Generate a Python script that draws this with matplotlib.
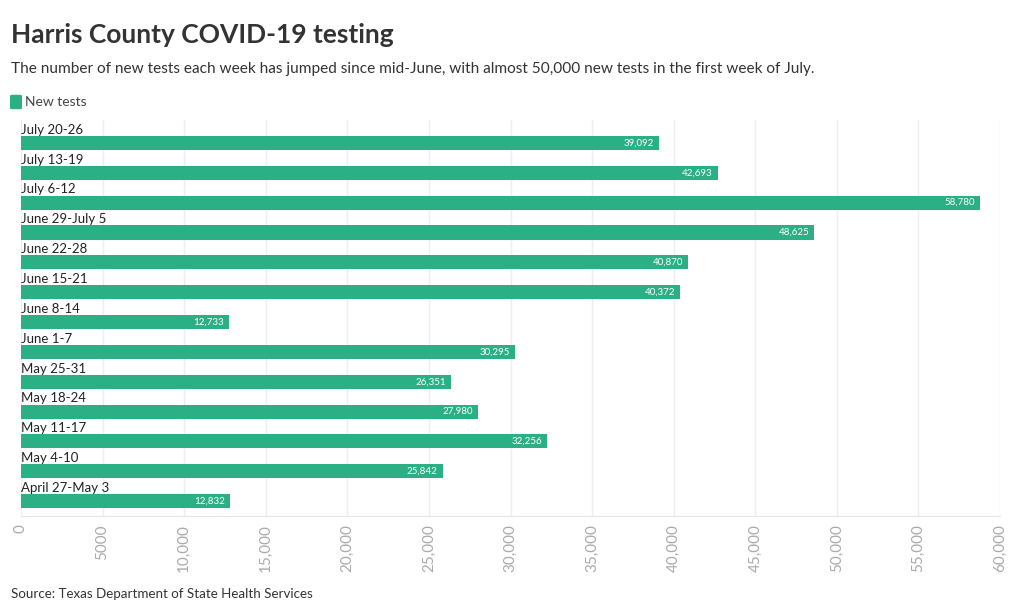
import matplotlib.pyplot as plt
from matplotlib.patches import FancyBboxPatch

weeks = ["July 20-26", "July 13-19", "July 6-12", "June 29-July 5", "June 22-28",
         "June 15-21", "June 8-14", "June 1-7", "May 25-31", "May 18-24",
         "May 11-17", "May 4-10", "April 27-May 3"]
new_tests = [39092, 42693, 58780, 48625, 40870, 40372, 12733, 30295, 26351,
             27980, 32256, 25842, 12832]
xticks = [0, 5000, 10000, 15000, 20000, 25000, 30000, 35000, 40000, 45000,
          50000, 55000, 60000]
xtick_labels = ["0", "5000", "10,000", "15,000", "20,000", "25,000", "30,000",
                "35,000", "40,000", "45,000", "50,000", "55,000", "60,000"]

green = "#2bb085"
plt.rcParams['font.family'] = ['Lato', 'DejaVu Sans']

fig = plt.figure(figsize=(10.2, 6.13), dpi=100)
ax = fig.add_axes([21/1020, 1 - 516/613, 979/1020, (516-120)/613])

n = len(weeks)
ypos = [n - 1 - i for i in range(n)]
ax.barh(ypos, new_tests, height=0.47, color=green, zorder=2)
for y, w, v in zip(ypos, weeks, new_tests):
    ax.text(0, y + 0.24, w, ha='left', va='bottom', fontsize=9.5, color='#222222')
    ax.text(v - 300, y, f"{v:,}", ha='right', va='center', fontsize=7,
            color='white', zorder=3)

ax.set_xlim(0, 60000)
ax.set_ylim(-0.5, n - 0.23)
ax.set_xticks(xticks)
ax.set_xticklabels(xtick_labels, rotation=90, color='#aaaaaa', fontsize=11)
ax.tick_params(axis='x', length=0, pad=6)
ax.set_yticks([])
ax.grid(axis='x', color='#eeeeee', linewidth=1, zorder=0)
for s in ['top', 'right', 'left']:
    ax.spines[s].set_visible(False)
ax.spines['bottom'].set_color('#e6e6e6')

fig.text(11/1020, 1 - 35/613, "Harris County COVID-19 testing", fontsize=19,
         fontweight='bold', color='#333333', va='center', ha='left')
fig.text(11/1020, 1 - 69/613,
         "The number of new tests each week has jumped since mid-June, with almost 50,000 new tests in the first week of July.",
         fontsize=11.1, color='#333333', va='center', ha='left')

fig.patches.append(FancyBboxPatch((12/1020, 1 - 108/613), 8/1020, 12/613,
                                  boxstyle="round,pad=0.002", transform=fig.transFigure,
                                  facecolor=green, edgecolor='none'))
fig.text(25/1020, 1 - 102/613, "New tests", fontsize=10, color='#444444',
         va='center', ha='left')

fig.text(11/1020, 1 - 594/613, "Source: Texas Department of State Health Services",
         fontsize=9.6, color='#333333', va='center', ha='left')

fig.savefig("out.png", dpi=100)
